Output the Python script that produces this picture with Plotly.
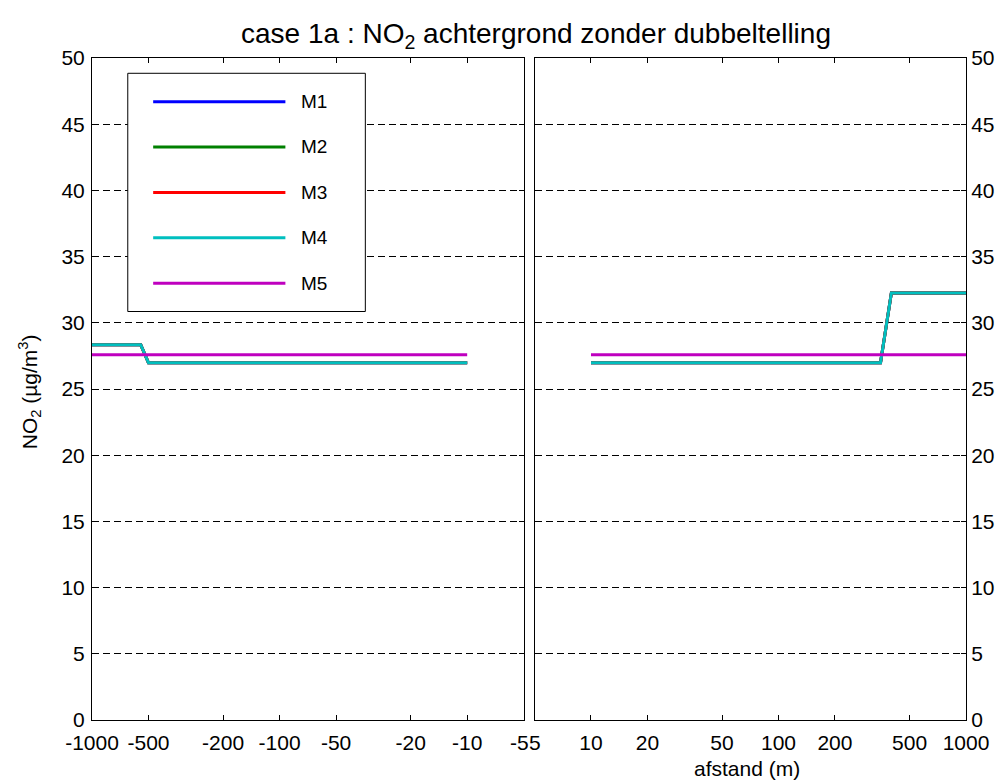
import plotly.graph_objects as go

# ---- data -------------------------------------------------------------
# distances (m) upwind (negative) and downwind (positive) of the road
dist_left = [-1000, -550, -500, -200, -100, -50, -20, -10]
dist_right = [10, 20, 50, 100, 200, 350, 400, 500, 1000]

models = ["M1", "M2", "M3", "M4", "M5"]
colors = ["#0000ff", "#008000", "#ff0000", "#00bfbf", "#bf00bf"]

no2_left = {
    "M1": [28.34, 28.34, 26.98, 26.98, 26.98, 26.98, 26.98, 26.98],
    "M2": [28.34, 28.34, 26.98, 26.98, 26.98, 26.98, 26.98, 26.98],
    "M3": [28.34, 28.34, 26.98, 26.98, 26.98, 26.98, 26.98, 26.98],
    "M4": [28.34, 28.34, 26.98, 26.98, 26.98, 26.98, 26.98, 26.98],
    "M5": [27.59, 27.59, 27.59, 27.59, 27.59, 27.59, 27.59, 27.59],
}
no2_right = {
    "M1": [26.98, 26.98, 26.98, 26.98, 26.98, 26.98, 32.26, 32.26, 32.26],
    "M2": [26.98, 26.98, 26.98, 26.98, 26.98, 26.98, 32.26, 32.26, 32.26],
    "M3": [26.98, 26.98, 26.98, 26.98, 26.98, 26.98, 32.26, 32.26, 32.26],
    "M4": [26.98, 26.98, 26.98, 26.98, 26.98, 26.98, 32.26, 32.26, 32.26],
    "M5": [27.59, 27.59, 27.59, 27.59, 27.59, 27.59, 27.59, 27.59, 27.59],
}

left_ticks = [-1000, -500, -200, -100, -50, -20, -10, -5]
right_ticks = [5, 10, 20, 50, 100, 200, 500, 1000]
y_ticks = [0, 5, 10, 15, 20, 25, 30, 35, 40, 45, 50]

title_text = "case 1a : NO<sub>2</sub> achtergrond zonder dubbeltelling"
ylabel_text = "NO<sub>2</sub> (µg/m<sup>3</sup>)"
xlabel_text = "afstand (m)"

# ---- layout geometry (pixels) ----------------------------------------
W, H = 997, 780
L, R, T, B = 91.5, 31, 58, 59.5
PW, PH = W - L - R, H - T - B
FONT = "Liberation Sans, Arial, sans-serif"
TICK_SIZE = 21


def xp(px):
    return (px - L) / PW


def yp(py):
    return (H - B - py) / PH


fig = go.Figure()

for m, c in zip(models, colors):
    fig.add_trace(go.Scatter(
        x=[abs(d) for d in dist_left], y=no2_left[m], mode="lines",
        line=dict(color=c, width=3), xaxis="x", yaxis="y",
        name=m, showlegend=False))
    fig.add_trace(go.Scatter(
        x=dist_right, y=no2_right[m], mode="lines",
        line=dict(color=c, width=3), xaxis="x2", yaxis="y2",
        name=m, showlegend=False))

axis_common = dict(
    showline=True, linecolor="black", linewidth=1, mirror="ticks",
    ticks="inside", ticklen=5, tickwidth=1, tickcolor="black",
    tickfont=dict(family=FONT, size=TICK_SIZE, color="black"),
    zeroline=False,
)

# the two inner edge labels (-5 | 5) sit side by side at the panel gap,
# so they are written as annotations below instead of axis ticks
left_vals = left_ticks[:-1]
right_vals = right_ticks[1:]

fig.update_layout(
    width=W, height=H,
    margin=dict(l=L, r=R, t=T, b=B, autoexpand=False),
    paper_bgcolor="white", plot_bgcolor="white",
    showlegend=False,
    xaxis=dict(
        axis_common, type="log", domain=[0, xp(523.4)],
        range=[3, 0.69897], autorange=False,
        tickvals=[abs(v) for v in left_vals],
        ticktext=[str(v) for v in left_vals],
        showgrid=False, anchor="y", ticklabelstandoff=4,
    ),
    xaxis2=dict(
        axis_common, type="log", domain=[xp(534.3), 1],
        range=[0.69897, 3], autorange=False,
        tickvals=right_vals, ticktext=[str(v) for v in right_vals],
        showgrid=False, anchor="y2", ticklabelstandoff=4,
    ),
    yaxis=dict(
        axis_common, range=[0, 50], tickvals=y_ticks,
        showgrid=True, gridcolor="black", gridwidth=1, griddash="7px,4px",
        anchor="x", side="left", ticklabelstandoff=2,
    ),
    yaxis2=dict(
        axis_common, range=[0, 50], tickvals=y_ticks, matches="y",
        showgrid=True, gridcolor="black", gridwidth=1, griddash="7px,4px",
        anchor="x2", side="right", ticklabelstandoff=0,
    ),
    title=dict(
        text=title_text, x=536 / W, xanchor="center", xref="container",
        y=1 - 33 / H, yanchor="middle", yref="container",
        font=dict(family=FONT, size=28, color="black"),
    ),
)

# inner edge tick labels at the gap between the panels
fig.add_annotation(
    text=str(left_ticks[-1]), x=xp(531), y=yp(743),
    xref="paper", yref="paper", xanchor="right", yanchor="middle",
    showarrow=False, font=dict(family=FONT, size=TICK_SIZE, color="black"))
fig.add_annotation(
    text=str(right_ticks[0]), x=xp(527), y=yp(743),
    xref="paper", yref="paper", xanchor="left", yanchor="middle",
    showarrow=False, font=dict(family=FONT, size=TICK_SIZE, color="black"))

# axis labels
fig.add_annotation(
    text=ylabel_text, textangle=-90, x=xp(29), y=yp(392),
    xref="paper", yref="paper", xanchor="center", yanchor="middle",
    showarrow=False, font=dict(family=FONT, size=21, color="black"))
fig.add_annotation(
    text=xlabel_text, x=xp(747), y=yp(769),
    xref="paper", yref="paper", xanchor="center", yanchor="middle",
    showarrow=False, font=dict(family=FONT, size=21, color="black"))

# legend box with long line samples
box_l, box_r, box_t, box_b = 127.3, 365, 73.3, 311.7
fig.add_shape(type="rect", xref="paper", yref="paper",
              x0=xp(box_l), x1=xp(box_r), y0=yp(box_b), y1=yp(box_t),
              line=dict(color="black", width=1), fillcolor="white",
              layer="above")
entry_y = [101.7, 147.0, 192.7, 238.0, 283.3]
for m, c, ey in zip(models, colors, entry_y):
    fig.add_shape(type="line", xref="paper", yref="paper",
                  x0=xp(152.7), x1=xp(285), y0=yp(ey), y1=yp(ey),
                  line=dict(color=c, width=3), layer="above")
    fig.add_annotation(text=m, x=xp(299), y=yp(ey), xref="paper",
                       yref="paper", xanchor="left", yanchor="middle",
                       showarrow=False,
                       font=dict(family=FONT, size=19, color="black"))

fig.write_html("out.html")
